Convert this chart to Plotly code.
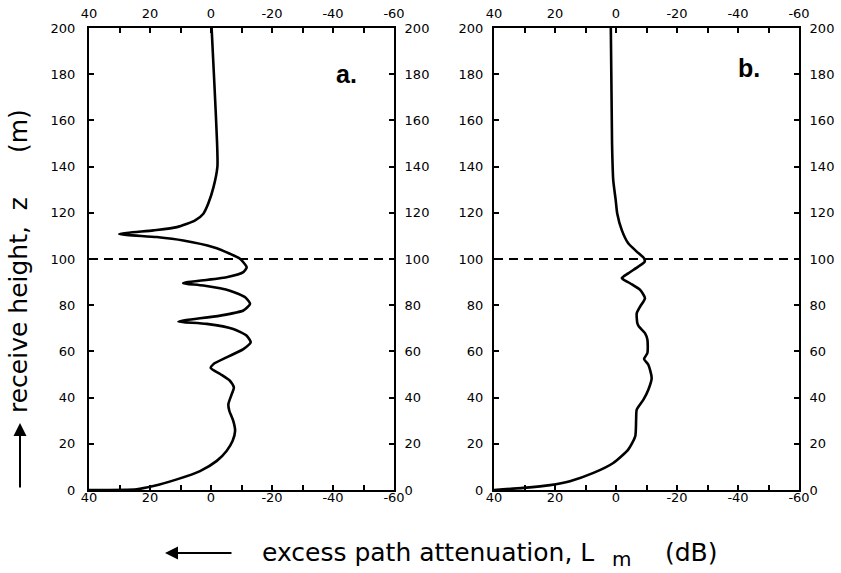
import plotly.graph_objects as go

# Panel a: receive height (m) vs excess path attenuation (dB)
z_a = [200, 176, 150, 140, 131, 124, 119.6, 116.7, 113.8, 112.4, 110.8, 109.5, 108,
       105.1, 102.3, 100.1, 96.4, 94.3, 92.1, 89.9, 89.5, 88.5, 86.3, 83.4, 80.6,
       77.7, 75.5, 73.6, 72.9, 71.9, 69.7, 66.8, 63.9, 61, 57.4, 54.5, 52.8, 50.2,
       47.3, 44.4, 41.5, 37.2, 34.3, 29.9, 25.6, 21.3, 16.9, 12.6, 8.2, 4.6, 1.7,
       0.3, 0]
L_a = [-0.2, -1.1, -2.0, -2.1, -0.8, 0.9, 2.5, 5.2, 11.2, 18.9, 30.1, 17.8, 9.1,
       -0.8, -6.2, -9.5, -11.7, -10.6, -5.1, 8.0, 9.1, 2.5, -6.2, -11.2, -12.8,
       -10.6, -3.0, 8.0, 10.7, 1.4, -7.3, -11.7, -13.0, -10.6, -5.1, -0.8, 0.1, -3.0,
       -6.2, -7.5, -6.8, -5.7, -6.0, -7.3, -7.9, -7.1, -5.1, -1.9, 3.6, 11.2, 18.9,
       24.4, 40]

# Panel b
z_b = [200, 150, 134, 125.5, 119.7, 112.5, 106.8, 103.2, 100.3, 98.8, 96.7, 93.8,
       91.7, 89.5, 86.6, 83, 79.4, 76.5, 72.2, 70.8, 67.9, 65, 59.3, 56.7, 54.2,
       48.5, 43.4, 39.1, 34.8, 30.5, 23.2, 17.5, 11.7, 7.4, 3.8, 2.1, 0.9, 0]
L_b = [1.7, 1.3, 0.9, 0.1, -0.4, -1.9, -4.0, -6.8, -9.2, -9.4, -7.3, -4.0, -1.9,
       -4.6, -7.9, -9.5, -7.9, -6.8, -7.0, -7.5, -9.5, -10.3, -10.3, -9.2, -10.6,
       -11.7, -10.6, -9.0, -6.8, -6.6, -6.3, -4.0, 0.9, 7.4, 15.1, 21.6, 30.4, 40]

# Axes ticks
x_tickvals = [40, 30, 20, 10, 0, -10, -20, -30, -40, -50, -60]
x_ticktext = ["40", "", "20", "", "0", "", "-20", "", "-40", "", "-60"]
y_tickvals = [0, 20, 40, 60, 80, 100, 120, 140, 160, 180, 200]
y_ticktext = [str(v) for v in y_tickvals]
boundary_height = 100

X_RANGE = [40, -60]
Y_RANGE = [0, 200]
TICK_FONT = dict(family="DejaVu Sans", size=13, color="black")

W, H = 841, 573


def px(x):
    return x / W


def py(y):
    return 1 - y / H


fig = go.Figure()
curve_style = dict(color="black", width=2.6, shape="spline", smoothing=0.6)
fig.add_trace(go.Scatter(x=L_a, y=z_a, mode="lines", line=curve_style,
                         xaxis="x", yaxis="y", showlegend=False))
fig.add_trace(go.Scatter(x=L_b, y=z_b, mode="lines", line=curve_style,
                         xaxis="x2", yaxis="y2", showlegend=False))

# dashed reference line at the boundary height in each panel
for xr, yr in (("x", "y"), ("x2", "y2")):
    fig.add_trace(go.Scatter(x=X_RANGE, y=[boundary_height, boundary_height],
                             mode="lines", xaxis=xr, yaxis=yr, showlegend=False,
                             line=dict(color="black", width=2, dash="9px,6px")))


def common_axis():
    return dict(ticks="inside", ticklen=5, tickwidth=1.5, tickcolor="black",
                showline=True, linecolor="black", linewidth=2, showgrid=False,
                zeroline=False, tickfont=TICK_FONT, fixedrange=True,
                automargin=False)


def xax(domain, side, anchor, overlay=None):
    d = common_axis()
    d.update(domain=domain, range=X_RANGE, side=side, anchor=anchor,
             tickvals=x_tickvals, ticktext=x_ticktext,
             ticklabelstandoff=3 if side == "top" else -6)
    if overlay:
        d["overlaying"] = overlay
    return d


def yax(domain, side, anchor, overlay=None, standoff=6):
    d = common_axis()
    d.update(domain=domain, range=Y_RANGE, side=side, anchor=anchor,
             tickvals=y_tickvals, ticktext=y_ticktext, ticklabelstandoff=standoff)
    if overlay:
        d["overlaying"] = overlay
    return d


dom_a = [px(89), px(394)]
dom_b = [px(494), px(799)]
dom_y = [py(490), py(28)]

fig.update_layout(
    width=W, height=H,
    margin=dict(l=0, r=0, t=0, b=0, pad=0, autoexpand=False),
    paper_bgcolor="white", plot_bgcolor="white",
    xaxis=xax(dom_a, "bottom", "y"),
    yaxis=yax(dom_y, "left", "x", standoff=9),
    xaxis2=xax(dom_b, "bottom", "y2"),
    yaxis2=yax(dom_y, "left", "x2"),
    xaxis3=xax(dom_a, "top", "y", overlay="x"),
    yaxis3=yax(dom_y, "right", "x", overlay="y"),
    xaxis4=xax(dom_b, "top", "y2", overlay="x2"),
    yaxis4=yax(dom_y, "right", "x2", overlay="y2"),
)

# empty traces so the mirrored axes are drawn
fig.add_trace(go.Scatter(x=[None], y=[None], xaxis="x3", yaxis="y3", showlegend=False))
fig.add_trace(go.Scatter(x=[None], y=[None], xaxis="x4", yaxis="y4", showlegend=False))


def label(text, x, y, font, **kw):
    fig.add_annotation(text=text, x=px(x), y=py(y), xref="paper", yref="paper",
                       xanchor=kw.pop("xanchor", "center"),
                       yanchor=kw.pop("yanchor", "middle"),
                       showarrow=False, font=font, **kw)


def arrow(x, y, ax, ay):
    fig.add_annotation(text="", x=px(x), y=py(y), ax=ax, ay=ay,
                       xref="paper", yref="paper", axref="pixel", ayref="pixel",
                       showarrow=True, arrowhead=2, arrowsize=1.3, arrowwidth=2,
                       arrowcolor="black")


# panel letters
LETTER_FONT = dict(family="Liberation Sans", size=25, color="black")
label("<b>a.</b>", 346, 74, LETTER_FONT)
label("<b>b.</b>", 749, 68, LETTER_FONT)

# axis titles with arrows
TITLE_FONT = dict(family="DejaVu Sans", size=25, color="black")
label("excess path attenuation, L", 260, 552.5, TITLE_FONT, xanchor="left")
label("m", 621, 573, dict(family="DejaVu Sans", size=20, color="black"), yanchor="bottom")
label("(dB)", 720, 552.5, TITLE_FONT, xanchor="right")
arrow(165, 553, 68, 0)

label("receive height,  z", 18, 305, TITLE_FONT, textangle=-90)
label("(m)", 18, 131, TITLE_FONT, textangle=-90)
arrow(20, 423, 0, 66)

fig.write_html("out.html")
